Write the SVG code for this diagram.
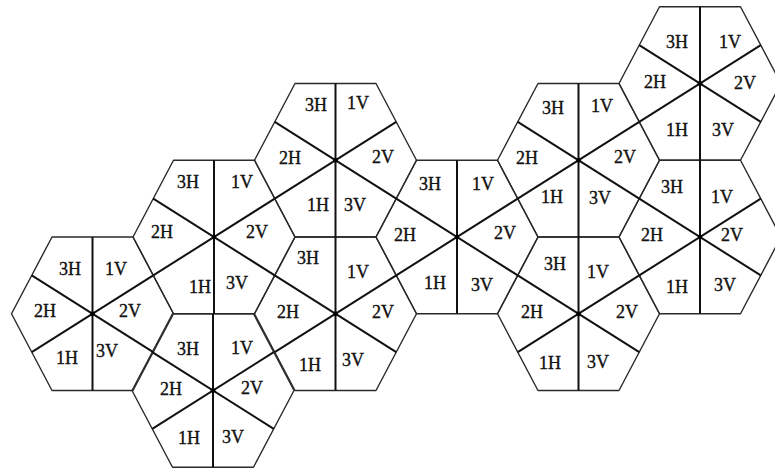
<svg xmlns="http://www.w3.org/2000/svg" xmlns:xlink="http://www.w3.org/1999/xlink" width="775" height="472" viewBox="0 0 775 472">
<style>
.hex{fill:none;stroke:#2a2a2a;stroke-width:1.4;stroke-linejoin:round}
.spk{fill:none;stroke:#111;stroke-width:2}
.dot{fill:#000}
text{font-family:"Liberation Serif","Times New Roman",serif;font-size:18px;fill:#111;stroke:#111;stroke-width:0.35;text-anchor:middle;dominant-baseline:central}
</style>
<defs>
<polygon id="hx" class="hex" points="-81,0 -40.5,-76.75 40.5,-76.75 81,0 40.5,76.75 -40.5,76.75"/>
<g id="sp"><path class="spk" d="M0,-76.75V76.75M-60.75,-38.4L60.75,38.4M-60.75,38.4L60.75,-38.4"/><circle class="dot" r="2.3"/></g>
</defs>
<rect width="775" height="472" fill="#fff"/>
<g id="hex1"><use xlink:href="#hx" href="#hx" transform="translate(92.5,313.75)"/>
<text x="70" y="269">3H</text><text x="116" y="269">1V</text><text x="45" y="311">2H</text><text x="130" y="311">2V</text><text x="67" y="358">1H</text><text x="107" y="351">3V</text></g>
<g id="hex2"><use xlink:href="#hx" href="#hx" transform="translate(214,237)"/>
<text x="188" y="182">3H</text><text x="242" y="182">1V</text><text x="162" y="232">2H</text><text x="257" y="232">2V</text><text x="200" y="287">1H</text><text x="237" y="283">3V</text></g>
<g id="hex3"><use xlink:href="#hx" href="#hx" transform="translate(213,390.5)"/>
<text x="188" y="349">3H</text><text x="242" y="348">1V</text><text x="171" y="389">2H</text><text x="252" y="388">2V</text><text x="189" y="438">1H</text><text x="233" y="437">3V</text></g>
<g id="hex4"><use xlink:href="#hx" href="#hx" transform="translate(335.5,160.25)"/>
<text x="316" y="105">3H</text><text x="358" y="103">1V</text><text x="290" y="158">2H</text><text x="383" y="157">2V</text><text x="318" y="205">1H</text><text x="355" y="205">3V</text></g>
<g id="hex5"><use xlink:href="#hx" href="#hx" transform="translate(335.5,313.75)"/>
<text x="308" y="258">3H</text><text x="358" y="272">1V</text><text x="288" y="312">2H</text><text x="383" y="312">2V</text><text x="310" y="365">1H</text><text x="353" y="360">3V</text></g>
<g id="hex6"><use xlink:href="#hx" href="#hx" transform="translate(457,237)"/>
<text x="430" y="184">3H</text><text x="483" y="184">1V</text><text x="405" y="235">2H</text><text x="505" y="233">2V</text><text x="435" y="283">1H</text><text x="482" y="285">3V</text></g>
<g id="hex7"><use xlink:href="#hx" href="#hx" transform="translate(578.5,160.25)"/>
<text x="553" y="108">3H</text><text x="602" y="106">1V</text><text x="527" y="158">2H</text><text x="625" y="157">2V</text><text x="552" y="197">1H</text><text x="600" y="198">3V</text></g>
<g id="hex8"><use xlink:href="#hx" href="#hx" transform="translate(578.5,313.75)"/>
<text x="555" y="264">3H</text><text x="598" y="272">1V</text><text x="532" y="312">2H</text><text x="627" y="312">2V</text><text x="550" y="363">1H</text><text x="598" y="362">3V</text></g>
<g id="hex9"><use xlink:href="#hx" href="#hx" transform="translate(700,83.5)"/>
<text x="677" y="42">3H</text><text x="730" y="42">1V</text><text x="655" y="82">2H</text><text x="745" y="83">2V</text><text x="677" y="130">1H</text><text x="723" y="130">3V</text></g>
<g id="hex10"><use xlink:href="#hx" href="#hx" transform="translate(700,237)"/>
<text x="672" y="187">3H</text><text x="722" y="197">1V</text><text x="652" y="235">2H</text><text x="732" y="235">2V</text><text x="677" y="287">1H</text><text x="725" y="285">3V</text></g>
<g id="connectors">
<use xlink:href="#sp" href="#sp" transform="translate(92.5,313.75)"/>
<use xlink:href="#sp" href="#sp" transform="translate(214,237)"/>
<use xlink:href="#sp" href="#sp" transform="translate(213,390.5)"/>
<use xlink:href="#sp" href="#sp" transform="translate(335.5,160.25)"/>
<use xlink:href="#sp" href="#sp" transform="translate(335.5,313.75)"/>
<use xlink:href="#sp" href="#sp" transform="translate(457,237)"/>
<use xlink:href="#sp" href="#sp" transform="translate(578.5,160.25)"/>
<use xlink:href="#sp" href="#sp" transform="translate(578.5,313.75)"/>
<use xlink:href="#sp" href="#sp" transform="translate(700,83.5)"/>
<use xlink:href="#sp" href="#sp" transform="translate(700,237)"/>
</g>
</svg>
